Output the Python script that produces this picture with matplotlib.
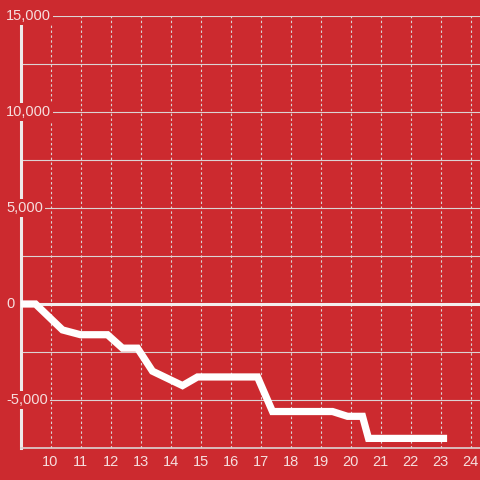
import matplotlib
matplotlib.use("Agg")
import matplotlib.pyplot as plt
from matplotlib.transforms import blended_transform_factory

# hours of the day and running balance
hours = [9.0, 9.5, 10.4, 11.0, 11.9, 12.4, 12.9, 13.4, 14.4, 14.9,
         16.9, 17.4, 19.4, 19.9, 20.4, 20.6, 23.1]
balance = [0, 0, -1350, -1600, -1600, -2300, -2300, -3500, -4250, -3800,
           -3800, -5600, -5600, -5850, -5850, -7000, -7000]

x_ticks = list(range(10, 25))
y_grid = [-7500, -5000, -2500, 0, 2500, 5000, 7500, 10000, 12500, 15000]
y_labels = {15000: "15,000", 10000: "10,000", 5000: "5,000",
            0: "0", -5000: "-5,000"}

RED = "#cc2a2f"
TEXT = "#f6dede"
GRID = "#dcd3d3"

plt.rcParams["font.family"] = ["Liberation Sans", "DejaVu Sans"]

fig = plt.figure(figsize=(4.8, 4.8), dpi=100)
fig.patch.set_facecolor(RED)
left = 20.5 / 480
ax = fig.add_axes([left, 32 / 480, 1 - left, 432 / 480])
ax.set_facecolor(RED)

ax.set_xlim(9, 9 + (480 - 20.5) / 30)
ax.set_ylim(-7500, 15000)

ax.set_xticks(x_ticks)
ax.set_xticklabels([str(t) for t in x_ticks])
ax.set_yticks(y_grid)
ax.set_yticklabels([])
ax.tick_params(axis="both", length=0, colors=TEXT, labelsize=10.5)
ax.tick_params(axis="x", pad=5)

ax.grid(axis="x", color=GRID, linestyle=(0, (2.2, 2.2)), linewidth=0.8)
ax.grid(axis="y", color=GRID, linestyle="-", linewidth=0.8)

for side in ("top", "right"):
    ax.spines[side].set_visible(False)
ax.spines["left"].set_color("#eeeaea")
ax.spines["left"].set_linewidth(2.2)
ax.spines["bottom"].set_color(GRID)
ax.spines["bottom"].set_linewidth(1.2)

ax.axhline(0, color="#f3eeee", linewidth=2.2, zorder=3)
ax.plot(hours, balance, color="white", linewidth=5.2,
        solid_capstyle="projecting", solid_joinstyle="miter", zorder=4)

trans = blended_transform_factory(fig.transFigure, ax.transData)
for val, lab in y_labels.items():
    ax.text(6 / 480, val, lab, transform=trans, ha="left", va="center",
            color=TEXT, fontsize=10.5, zorder=6, clip_on=False,
            bbox=dict(facecolor=RED, edgecolor="none", pad=1.5))

fig.savefig("out.png", dpi=100, facecolor=RED)
